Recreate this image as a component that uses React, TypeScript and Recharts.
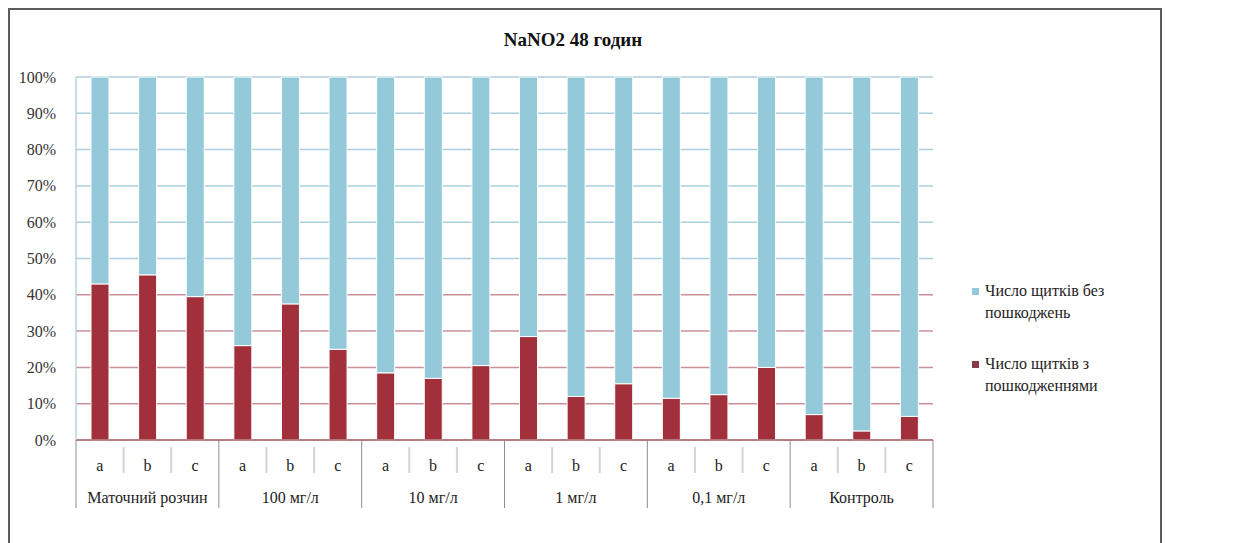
import { Bar, BarChart, CartesianGrid, XAxis, YAxis } from "recharts";

// NaNO2, 48 h exposure: share of scales with / without damage per sample
const groups = ["Маточний розчин", "100 мг/л", "10 мг/л", "1 мг/л", "0,1 мг/л", "Контроль"];
const samples = ["a", "b", "c"];
const damaged = [43, 45.5, 39.5, 26, 37.5, 25, 18.5, 17, 20.5, 28.5, 12, 15.5, 11.5, 12.5, 20, 7, 2.5, 6.5];
const intact = [57, 54.5, 60.5, 74, 62.5, 75, 81.5, 83, 79.5, 71.5, 88, 84.5, 88.5, 87.5, 80, 93, 97.5, 93.5];
const yTicks = [0, 10, 20, 30, 40, 50, 60, 70, 80, 90, 100];

const rows = damaged.map((d, i) => ({
  key: `${i}`,
  group: groups[Math.floor(i / 3)],
  sample: samples[i % 3],
  damaged: d,
  intact: intact[i],
}));

const CHART_W = 1150;
const CHART_H = 525;
const PLOT_LEFT = 66;
const PLOT_RIGHT = 923;
const PLOT_TOP = 67;
const PLOT_BOTTOM = 430;
const CAT_W = (PLOT_RIGHT - PLOT_LEFT) / rows.length;

const RED = "#a1303b";
const BLUE = "#93c9d8";
const FONT = "'Liberation Serif', 'DejaVu Serif', serif";
const textStyle = { fontFamily: FONT };

function CategoryTick(props: any) {
  const { x, payload } = props;
  const i = payload.index as number;
  const row = rows[i];
  const left = x - CAT_W / 2;
  return (
    <g>
      {i % 3 === 0 ? (
        <line x1={left} x2={left} y1={PLOT_BOTTOM} y2={PLOT_BOTTOM + 68} stroke="#8e8e8e" />
      ) : (
        <line x1={left} x2={left} y1={PLOT_BOTTOM + 7} y2={PLOT_BOTTOM + 33} stroke="#d4d4d4" strokeWidth={2} />
      )}
      {i === rows.length - 1 && (
        <line x1={x + CAT_W / 2} x2={x + CAT_W / 2} y1={PLOT_BOTTOM} y2={PLOT_BOTTOM + 68} stroke="#8e8e8e" />
      )}
      <text x={x} y={PLOT_BOTTOM + 25} textAnchor="middle" dominantBaseline="central" fontSize={16} fill="#222" style={textStyle}>
        {row.sample}
      </text>
      {i % 3 === 1 && (
        <text x={x} y={PLOT_BOTTOM + 57} textAnchor="middle" dominantBaseline="central" fontSize={16} fill="#222" style={textStyle}>
          {row.group}
        </text>
      )}
    </g>
  );
}

function PercentTick(props: any) {
  const { x, y, payload } = props;
  return (
    <text x={x} y={y} textAnchor="end" dominantBaseline="central" fontSize={16} fill="#333" style={textStyle}>
      {`${payload.value}%`}
    </text>
  );
}

function LegendBox() {
  const items = [
    { color: BLUE, lines: ["Число щитків без", "пошкоджень"] },
    { color: "#8a3a46", lines: ["Число щитків з", "пошкодженнями"] },
  ];
  return (
    <div
      style={{
        position: "absolute",
        left: 962,
        top: 270,
        fontFamily: FONT,
        fontSize: 16,
        color: "#222",
        lineHeight: "22px",
      }}
    >
      {items.map((it, k) => (
        <div key={k} style={{ position: "relative", paddingLeft: 13, marginBottom: k === 0 ? 29 : 0 }}>
          <span
            style={{
              position: "absolute",
              left: 0,
              top: 8,
              width: 7,
              height: 7,
              background: it.color,
            }}
          />
          {it.lines.map((l) => (
            <div key={l}>{l}</div>
          ))}
        </div>
      ))}
    </div>
  );
}

export default function App() {
  return (
    <div
      style={{
        position: "relative",
        width: CHART_W,
        height: 535,
        border: "2px solid #5c5c5c",
        borderBottom: "none",
        background: "#fff",
      }}
    >
      <div
        style={{
          position: "absolute",
          left: 0,
          width: CHART_W,
          top: 19,
          textAlign: "center",
          fontFamily: FONT,
          fontWeight: "bold",
          fontSize: 19,
          color: "#111",
          transform: "translateX(-12px)",
        }}
      >
        NaNO2 48 годин
      </div>
      <BarChart
        width={CHART_W}
        height={CHART_H}
        data={rows}
        margin={{ top: PLOT_TOP, right: CHART_W - PLOT_RIGHT, left: 0, bottom: 25 }}
        barSize={18}
      >
        <defs>
          <linearGradient id="gridTone" gradientUnits="userSpaceOnUse" x1={0} y1={PLOT_TOP} x2={0} y2={PLOT_BOTTOM}>
            <stop offset="0" stopColor="#aacfdc" />
            <stop offset="0.53" stopColor="#aacfdc" />
            <stop offset="0.58" stopColor="#c99098" />
            <stop offset="1" stopColor="#c99098" />
          </linearGradient>
        </defs>
        <CartesianGrid vertical={false} stroke="url(#gridTone)" strokeWidth={1.5} />
        <XAxis
          dataKey="key"
          height={70}
          interval={0}
          tickLine={false}
          axisLine={{ stroke: "#a86b74", strokeWidth: 1.5 }}
          tick={<CategoryTick />}
        />
        <YAxis
          width={PLOT_LEFT}
          domain={[0, 100]}
          ticks={yTicks}
          tickLine={false}
          axisLine={{ stroke: "#b9d3dc", strokeWidth: 1.5 }}
          tick={<PercentTick />}
          tickMargin={14}
        />
        <Bar dataKey="damaged" stackId="s" fill={RED} stroke="#fff" strokeWidth={1} isAnimationActive={false} />
        <Bar dataKey="intact" stackId="s" fill={BLUE} stroke="#fff" strokeWidth={1} isAnimationActive={false} />
      </BarChart>
      <LegendBox />
    </div>
  );
}
